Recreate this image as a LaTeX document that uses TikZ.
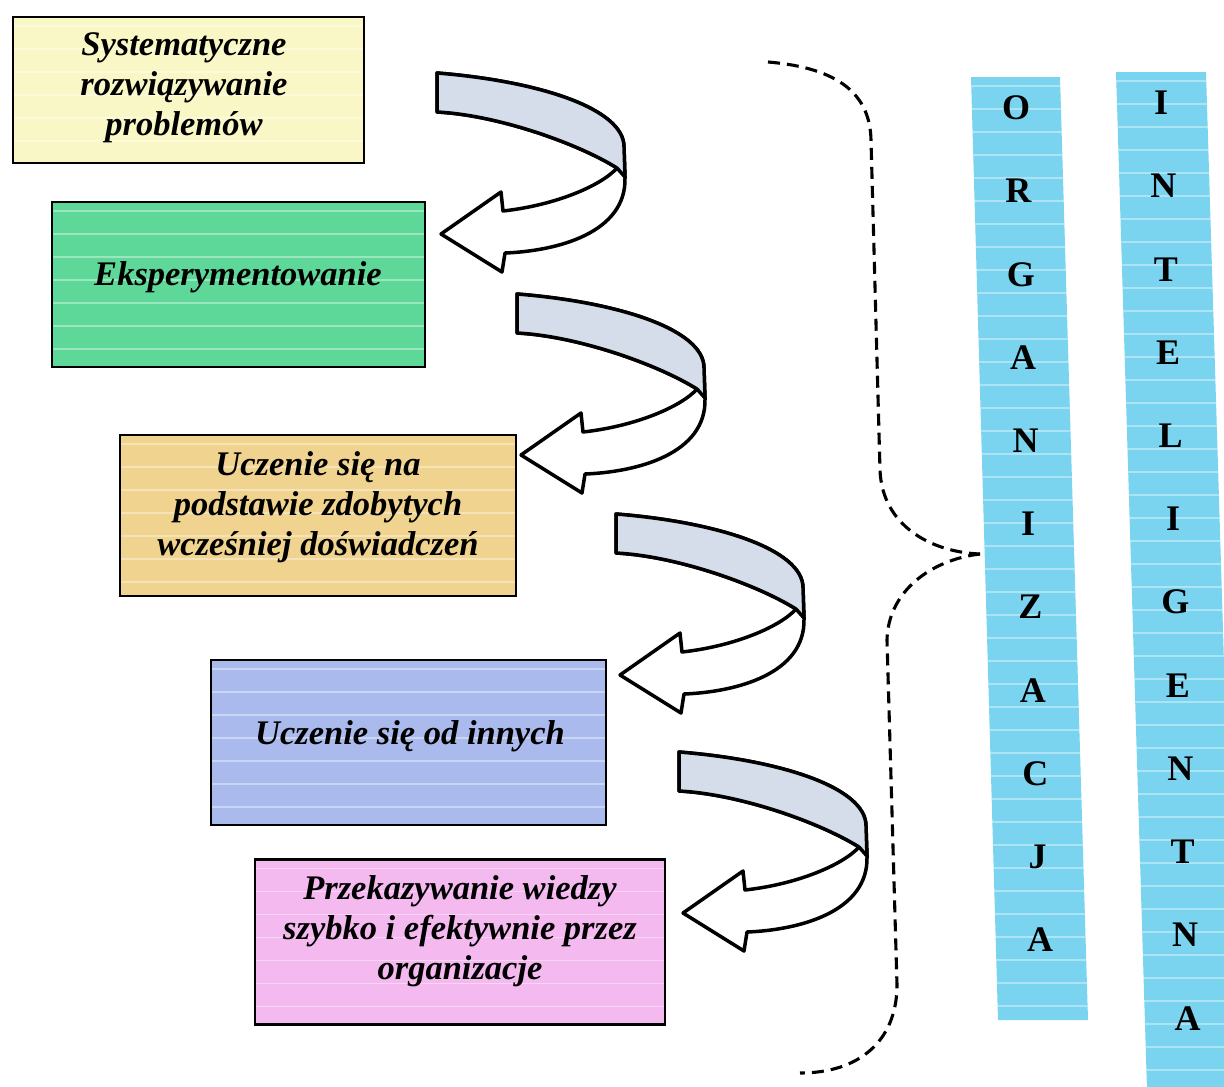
\documentclass[tikz,border=0pt]{standalone}
\usepackage{fontspec}
\setmainfont{Liberation Serif}
\definecolor{boxyellow}{RGB}{250,247,198}
\definecolor{boxgreen}{RGB}{94,216,152}
\definecolor{boxtan}{RGB}{240,211,142}
\definecolor{boxlav}{RGB}{170,186,236}
\definecolor{boxpink}{RGB}{244,186,240}
\definecolor{colblue}{RGB}{122,212,240}
\definecolor{ribbon}{RGB}{214,221,234}

% U-turn ribbon arrow; #1,#2 = top-left corner of the ribbon
\newcommand\ribbonarrow[2]{%
  \begin{scope}[shift={(#1,#2)}]
    % front face of the ribbon with the arrow head
    \filldraw[ribbonline, fill=white]
      (0,0) .. controls (100,8) and (187,35) .. (187,74) -- (188,104)
      .. controls (190,160) and (120,178) .. (68,180)
      -- (65,199) -- (4,161) -- (64,119) -- (66,138)
      .. controls (120,132) and (165,112) .. (180,95)
      .. controls (140,70) and (60,42) .. (0,39) -- cycle;
    % back face of the ribbon
    \filldraw[ribbonline, fill=ribbon]
      (0,0) .. controls (100,8) and (187,35) .. (187,74) -- (188,104) -- (180,95)
      .. controls (140,70) and (60,42) .. (0,39) -- cycle;
  \end{scope}}

\begin{document}
\begin{tikzpicture}[x=1pt,y=-1pt,
  stripes/.style={path picture={
    \foreach \k in {0,...,46}{
      \draw[white,opacity=.38,line width=1.2pt]
        ([yshift={-9pt-23pt*\k}]path picture bounding box.north west) --
        ([yshift={-9pt-23pt*\k}]path picture bounding box.north east);}}},
  box/.style={draw=black, line width=2.7pt, inner sep=0pt, stripes},
  boxtext/.style={align=center, inner sep=0pt,
    font=\fontsize{34.5}{40}\selectfont\bfseries\itshape},
  colletter/.style={inner sep=0pt, font=\fontsize{36}{40}\selectfont\bfseries},
  ribbonline/.style={draw=black, line width=3.5pt, line join=round},
  bracedash/.style={draw=black, line width=3.1pt, dash pattern=on 12pt off 7pt}]

\useasboundingbox (0,0) rectangle (1224,1087);
\clip (0,0) rectangle (1224,1087);

% activity boxes
\node[box, fill=boxyellow, minimum width=351pt, minimum height=146pt] (b1) at (188.5,90) {};
\node[box, fill=boxgreen,  minimum width=373pt, minimum height=165pt] (b2) at (238.5,284.5) {};
\node[box, fill=boxtan,    minimum width=396pt, minimum height=161pt] (b3) at (318,515.5) {};
\node[box, fill=boxlav,    minimum width=395pt, minimum height=165pt] (b4) at (408.5,742.5) {};
\node[box, fill=boxpink,   minimum width=410pt, minimum height=165pt] (b5) at (460,942) {};

\node[boxtext] (t1) at (184,88)  {Systematyczne\\rozwiązywanie\\problemów};
\node[boxtext] (t2) at (238,277) {Eksperymentowanie};
\node[boxtext] (t3) at (318,507) {Uczenie się na\\podstawie zdobytych\\wcześniej doświadczeń};
\node[boxtext] (t4) at (410,736) {Uczenie się od innych};
\node[boxtext] (t5) at (460,931) {Przekazywanie wiedzy\\szybko i efektywnie przez\\organizacje};

% turning arrows between the boxes
\ribbonarrow{437}{73}
\ribbonarrow{517}{294}
\ribbonarrow{616}{514}
\ribbonarrow{679}{752}

% dashed curly brace
\coordinate (brTop) at (768,62);
\coordinate (brTip) at (980,554);
\coordinate (brBot) at (800,1073);
\draw[bracedash] (brTop) .. controls (840,68) and (870,95) .. (871,140)
  -- (880,470) .. controls (882,525) and (930,552) .. (brTip);
\draw[bracedash] (brTip) .. controls (930,560) and (888,592) .. (887,640)
  -- (897,985) .. controls (897,1040) and (860,1073) .. (brBot);

% letter columns
\path[fill=colblue, stripes] (971,77) -- (1060,77) -- (1088,1020) -- (998,1020) -- cycle;
\path[fill=colblue, stripes] (1116,72) -- (1206,72) -- (1237,1090) -- (1147,1090) -- cycle;

\foreach \L [count=\i from 0] in {O,R,G,A,N,I,Z,A,C,J,A}
  \node[colletter] (o\i) at ({1016+2.41*\i},{108+83.2*\i}) {\L};
\foreach \L [count=\i from 0] in {I,N,T,E,L,I,G,E,N,T,N,A}
  \node[colletter] (n\i) at ({1161+2.41*\i},{103+83.2*\i}) {\L};
\end{tikzpicture}
\end{document}
